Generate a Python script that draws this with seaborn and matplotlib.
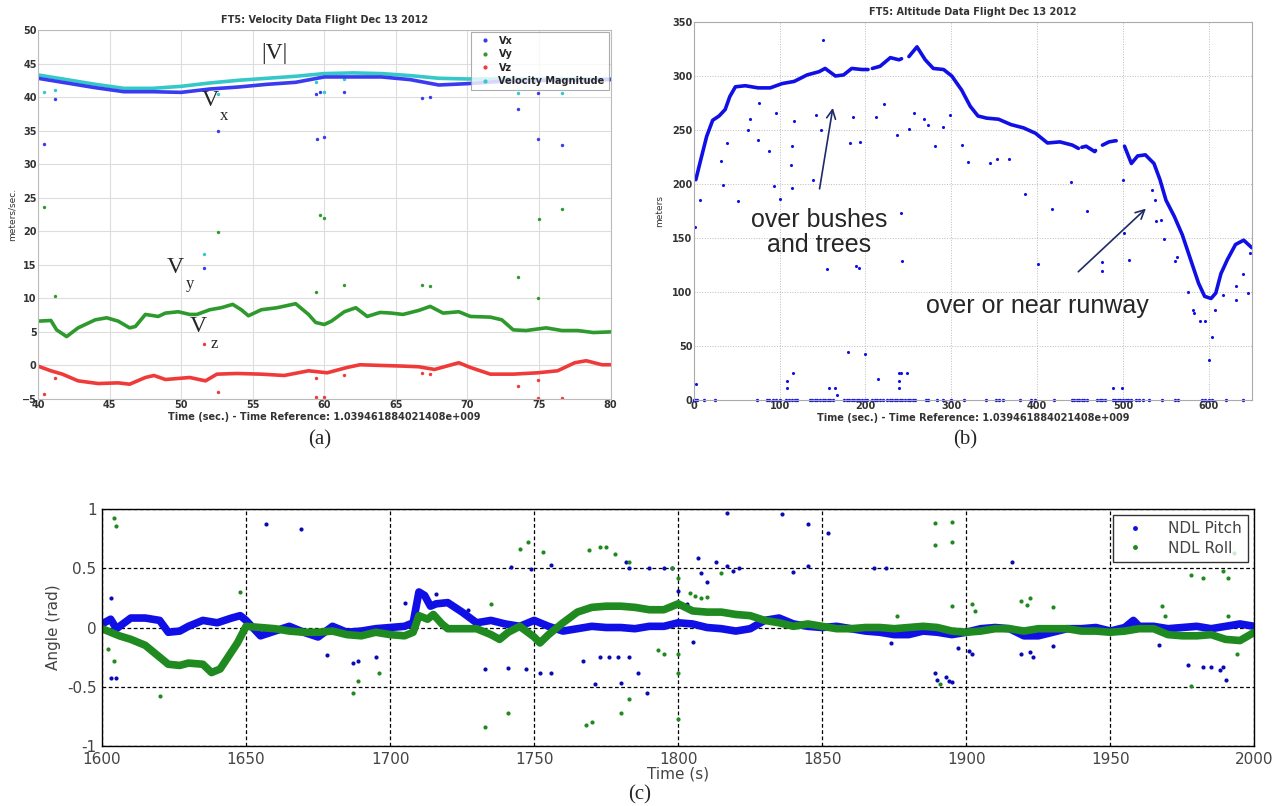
import numpy as np
import matplotlib
matplotlib.use('Agg')
import matplotlib.pyplot as plt
import seaborn as sns
from matplotlib.lines import Line2D

sns.set_style('white')
plt.rcParams['font.family'] = ['DejaVu Sans']

# ---------------- (a) velocity data ----------------
a_t = [40, 42, 44, 46, 48, 50, 52, 54, 56, 58, 60, 62, 64, 66, 68, 70, 72, 74, 76, 78, 80]
a_mag = [43.3, 42.6, 41.9, 41.3, 41.3, 41.6, 42.1, 42.5, 42.8, 43.1, 43.5, 43.6, 43.5, 43.2, 42.8, 42.7, 42.7, 42.7, 42.7, 42.7, 42.7]
a_vx = [42.8, 42.1, 41.4, 40.8, 40.8, 40.7, 41.2, 41.5, 41.9, 42.2, 43.0, 43.0, 43.0, 42.6, 41.8, 42.0, 42.3, 42.4, 42.5, 42.5, 42.6]

vy_t = [40, 40.9, 41.3, 42.0, 42.8, 44.0, 44.8, 45.6, 46.4, 46.8, 47.5, 48.4, 48.9, 49.8, 50.6, 51.1, 52.0,
        52.8, 53.6, 54.2, 54.7, 55.6, 56.7, 58.0, 58.9, 59.4, 60.0, 60.5, 61.4, 62.2, 63.0, 63.9, 64.7,
        65.5, 66.6, 67.4, 68.3, 69.4, 70.2, 71.6, 72.4, 73.2, 74.1, 75.5, 76.6, 77.7, 78.8, 80]
vy = [6.6, 6.7, 5.3, 4.3, 5.6, 6.8, 7.1, 6.6, 5.6, 5.8, 7.6, 7.3, 7.8, 8.0, 7.6, 7.6, 8.3,
      8.6, 9.1, 8.3, 7.4, 8.3, 8.6, 9.2, 7.6, 6.4, 6.1, 6.6, 8.0, 8.6, 7.3, 7.9, 7.8,
      7.6, 8.2, 8.8, 7.8, 8.0, 7.3, 7.2, 6.8, 5.3, 5.2, 5.6, 5.2, 5.2, 4.9, 5.0]

vz_t = [40, 40.9, 41.7, 42.8, 44.2, 45.6, 46.4, 47.5, 48.1, 48.9, 50.6, 51.7, 52.5, 53.9, 55.6, 57.2,
        58.9, 60.2, 61.6, 62.5, 63.9, 65.5, 66.6, 67.7, 69.4, 70.2, 71.6, 73.2, 74.9, 76.3, 77.5, 78.3, 79.4, 80]
vz = [-0.1, -0.8, -1.3, -2.3, -2.7, -2.6, -2.8, -1.8, -1.5, -2.1, -1.8, -2.3, -1.3, -1.2, -1.3, -1.5,
      -0.8, -1.1, -0.3, 0.1, 0.0, -0.1, -0.2, -0.6, 0.4, -0.3, -1.3, -1.3, -1.1, -0.8, 0.4, 0.7, 0.1, 0.1]

# stray samples
vx_out_t = [40.4, 41.2, 52.6, 51.6, 59.5, 60.0, 59.4, 59.7, 61.4, 66.8, 67.4, 73.5, 74.9, 74.9, 76.6]
vx_out = [33.0, 39.7, 35.0, 14.5, 33.7, 34.0, 40.5, 40.8, 40.8, 39.9, 40.0, 38.2, 40.6, 33.8, 32.8]
mag_out_t = [40.4, 41.2, 51.6, 52.6, 59.4, 60.0, 61.4, 73.5, 76.6]
mag_out = [40.7, 41.0, 16.6, 40.4, 42.2, 40.7, 42.7, 40.6, 40.6]
vy_out_t = [40.4, 41.2, 52.6, 59.4, 59.7, 60.0, 61.4, 66.8, 67.4, 73.5, 74.9, 75.0, 76.6]
vy_out = [23.6, 10.3, 19.9, 10.9, 22.4, 22.0, 12.0, 12.0, 11.9, 13.2, 10.0, 21.9, 23.3]
vz_out_t = [40.4, 41.2, 51.6, 52.6, 59.4, 59.4, 60.0, 61.4, 66.8, 67.4, 73.5, 74.9, 74.9, 76.6]
vz_out = [-4.2, -1.9, 3.2, -4.0, -1.8, -4.7, -4.7, -1.4, -1.2, -1.3, -3.1, -2.1, -4.8, -4.8]

# ---------------- (b) altitude data ----------------
b_t = [2.4, 8, 15, 22, 29.5, 36.6, 42, 48.5, 60, 75, 89, 103, 117, 132, 146, 153, 165, 174.5, 184, 196, 203,
       None,
       208, 217, 229, 239, 242,
       None,
       250.6, 260, 269.6, 279, 291, 300.5, 312, 322, 331, 341, 355, 369.5, 384, 398, 412, 426.5, 441, 448,
       None,
       452, 457, 467, 468,
       None,
       476, 483.6, 490.7, 492,
       None,
       501.7, 509.7, 517, 526, 536, 543, 550, 559.7, 569, 578.7, 588, 595, 602.5, 608, 614, 621.5, 631, 640.5, 650]
b_alt = [204, 222, 244, 259, 263, 269, 281, 290, 291, 289, 289, 293, 295, 301, 304, 307, 300, 301, 307, 306, 306,
         None,
         307, 309, 317, 315, 316,
         None,
         318, 327, 315, 307, 306, 300, 287, 272, 263, 261, 260, 255, 252, 247, 238, 239, 236, 233,
         None,
         234, 235, 230, 231,
         None,
         236, 239, 240, 240,
         None,
         235, 219, 226, 227, 219, 204, 185, 170, 153, 130, 108, 96, 94, 99, 117, 130, 144, 148, 141]

b_out_t = [2, 2.4, 6.7, 34, 32, 39, 51, 63, 65, 76, 75, 88, 94, 100, 96, 113, 115, 114, 117, 139, 148, 142,
           150, 155, 158, 165, 167, 109, 109, 116, 180, 200, 182, 193.5, 189, 192, 186, 212.5, 215, 222, 237,
           241, 242, 239, 241.5, 248, 239.6, 239.6, 250.6, 256, 268, 273, 281.5, 290, 299, 312, 319.5, 345,
           353, 367, 386, 417, 401, 439, 458, 476, 476, 488, 499, 500, 501, 507, 533.5, 537, 538, 544.5, 548,
           560, 563, 576, 581, 583, 590, 595, 600, 604, 607, 616, 631, 632, 639.5, 645, 648]
b_out = [160, 15, 185, 199, 221, 238, 184, 250, 260, 275, 241, 231, 198, 186, 266, 218, 196, 235, 258, 204, 250, 264,
         333, 121, 11, 11, 5, 11, 18, 25, 44, 43, 238, 239, 124, 122, 262, 262, 19, 274, 245,
         173, 129, 25, 25, 25, 18, 11, 251, 266, 260, 255, 235, 253, 264, 236, 220, 219,
         223, 223, 191, 177, 126, 202, 175, 119, 128, 11, 11, 204, 155, 130, 194, 185, 166, 167, 149,
         129, 132, 100, 83, 81, 73, 73, 37, 58, 83, 97, 106, 93, 117, 99, 136]
b_zero_t = [0, 2, 4, 12, 25, 74, 85, 88, 92, 96, 100, 108, 111, 114, 118, 120, 135, 138, 141, 144, 147, 150,
            153, 156, 159, 162, 175, 178, 181, 184, 187, 190, 193, 196, 199, 202, 208, 211, 214, 217, 220,
            225, 228, 231, 234, 237, 240, 243, 246, 249, 252, 255, 258, 270, 273, 283, 290, 300, 315, 340,
            352, 356, 360, 380, 393, 398, 420, 440, 443, 446, 449, 452, 455, 458, 470, 473, 476, 479, 488,
            491, 494, 497, 500, 503, 506, 509, 515, 519, 523, 530, 545, 560, 564, 592, 596, 600, 604, 620, 640]

# ---------------- (c) NDL attitude ----------------
p_t = [1600, 1603, 1605, 1610, 1615, 1620, 1623, 1627, 1630, 1635, 1640, 1645, 1648, 1650, 1655, 1660, 1665,
       1670, 1675, 1680, 1685, 1690, 1695, 1700, 1705, 1708, 1710, 1712, 1714, 1716, 1720, 1725, 1730, 1735,
       1740, 1745, 1750, 1755, 1760, 1765, 1770, 1775, 1780, 1785, 1790, 1795, 1800, 1805, 1810, 1815, 1820,
       1825, 1830, 1835, 1840, 1845, 1850, 1855, 1860, 1865, 1870, 1875, 1880, 1885, 1890, 1895, 1900, 1905,
       1910, 1915, 1920, 1925, 1930, 1935, 1940, 1945, 1950, 1955, 1958, 1960, 1965, 1970, 1975, 1980, 1985,
       1990, 1995, 2000]
pitch = [0.03, 0.07, -0.01, 0.08, 0.08, 0.06, -0.04, -0.03, 0.01, 0.06, 0.04, 0.08, 0.1, 0.06, -0.07, -0.03, 0.01,
         -0.04, -0.08, 0.01, -0.04, -0.03, -0.01, 0.0, 0.01, 0.04, 0.3, 0.27, 0.18, 0.2, 0.21, 0.13, 0.04, 0.06,
         0.03, 0.01, 0.06, 0.01, -0.03, -0.01, 0.01, 0.0, 0.0, -0.01, 0.01, 0.01, 0.04, 0.03, 0.0, -0.01, -0.03,
         -0.01, 0.06, 0.08, 0.03, 0.01, 0.0, 0.01, -0.01, -0.03, -0.04, -0.06, -0.06, -0.03, -0.04, -0.06, -0.04, -0.01,
         0.0, -0.01, -0.07, -0.07, -0.04, -0.01, -0.01, 0.0, -0.03, 0.0, 0.06, 0.01, 0.01, -0.01, 0.0, 0.01, -0.01,
         0.01, 0.03, 0.01]

r_t = [1600, 1603, 1606, 1610, 1615, 1620, 1623, 1627, 1630, 1635, 1638, 1641, 1644, 1647, 1650, 1655, 1660,
       1665, 1670, 1675, 1680, 1685, 1690, 1695, 1700, 1705, 1708, 1710, 1713, 1715, 1718, 1720, 1725, 1730,
       1735, 1738, 1741, 1745, 1750, 1752, 1755, 1760, 1765, 1770, 1775, 1780, 1785, 1790, 1795, 1800, 1805,
       1810, 1815, 1820, 1825, 1830, 1835, 1840, 1845, 1850, 1855, 1860, 1865, 1870, 1875, 1880, 1885, 1890,
       1895, 1900, 1905, 1910, 1915, 1920, 1925, 1930, 1935, 1940, 1945, 1950, 1955, 1960, 1965, 1970, 1975,
       1980, 1985, 1990, 1995, 2000]
roll = [-0.01, -0.04, -0.07, -0.1, -0.15, -0.25, -0.31, -0.32, -0.3, -0.31, -0.38, -0.35, -0.24, -0.13, 0.01, 0.0,
        -0.01, -0.03, -0.04, -0.04, -0.03, -0.06, -0.07, -0.04, -0.06, -0.07, -0.04, 0.1, 0.07, 0.11, 0.03, -0.01,
        -0.01, -0.01, -0.06, -0.1, -0.04, 0.01, -0.08, -0.13, -0.06, 0.04, 0.13, 0.17, 0.18, 0.18, 0.17, 0.15,
        0.15, 0.2, 0.14, 0.13, 0.13, 0.11, 0.1, 0.06, 0.04, 0.01, 0.03, 0.01, -0.01, -0.01, 0.0, 0.0, -0.01, 0.0,
        0.01, 0.0, -0.03, -0.04, -0.03, -0.01, -0.01, -0.03, -0.01, -0.01, -0.01, -0.03, -0.03, -0.04, -0.03,
        -0.01, -0.01, -0.06, -0.07, -0.07, -0.06, -0.1, -0.11, -0.04]

roll_out_t = [1604, 1605, 1602, 1604, 1620, 1648, 1689, 1687, 1696, 1735, 1733, 1741, 1745, 1748, 1753, 1769,
              1773, 1775, 1778, 1770, 1768, 1780, 1783, 1783, 1798, 1800, 1800, 1800, 1800, 1806, 1804, 1808,
              1810, 1793, 1795, 1815, 1876, 1889, 1895, 1889, 1895, 1891, 1895, 1902, 1903, 1919, 1922, 1921,
              1930, 1968, 1969, 1978, 1982, 1978, 1989, 1991, 1991, 1993, 1994]
roll_out = [0.92, 0.86, -0.18, -0.28, -0.58, 0.3, -0.45, -0.55, -0.38, 0.2, -0.84, -0.72, 0.66, 0.72, 0.64, 0.65,
            0.68, 0.68, 0.62, -0.8, -0.82, -0.72, 0.55, -0.6, 0.5, 0.42, -0.22, -0.77, -0.38, 0.27, 0.29, 0.25,
            0.26, -0.19, -0.22, 0.46, 0.1, 0.88, 0.89, 0.7, 0.72, -0.48, 0.18, 0.2, 0.14, 0.22, 0.25, 0.19,
            0.17, 0.18, 0.1, 0.44, 0.42, -0.49, 0.48, 0.42, 0.1, 0.63, -0.22]
pitch_out_t = [1603, 1603, 1605, 1657, 1669, 1687, 1689, 1695, 1678, 1705, 1716, 1727, 1733, 1741, 1747, 1742,
               1749, 1752, 1756, 1756, 1767, 1771, 1773, 1776, 1779, 1780, 1782, 1783, 1783, 1786, 1789, 1790,
               1795, 1798, 1800, 1803, 1805, 1807, 1808, 1810, 1813, 1817, 1817, 1819, 1821, 1836, 1840, 1845,
               1845, 1852, 1868, 1872, 1874, 1889, 1890, 1893, 1894, 1895, 1897, 1901, 1902, 1916, 1919, 1922,
               1923, 1930, 1967, 1977, 1982, 1985, 1988, 1989, 1990]
pitch_out = [0.25, -0.43, -0.43, 0.87, 0.83, -0.3, -0.28, -0.25, -0.23, 0.21, 0.28, 0.15, -0.35, -0.34, -0.35, 0.51,
             0.49, -0.38, -0.38, 0.53, -0.28, -0.48, -0.25, -0.25, -0.25, -0.47, 0.55, -0.25, 0.5, -0.38, -0.55, 0.5,
             0.5, 0.5, 0.31, 0.2, -0.12, 0.59, 0.46, 0.38, 0.55, 0.97, 0.52, 0.48, 0.5, 0.96, 0.47, 0.52,
             0.87, 0.8, 0.5, 0.5, -0.13, -0.38, -0.44, -0.42, -0.45, -0.46, -0.17, -0.2, -0.22, 0.55, -0.22, -0.21,
             -0.25, -0.16, -0.15, -0.32, -0.33, -0.33, -0.36, -0.33, -0.44]

c_blue = '#1010e6'
c_green = '#1f8a1f'
c_vx = '#3a3af0'
c_vy = '#2e9a2e'
c_vz = '#f03a3a'
c_mag = '#35c8c8'

fig = plt.figure(figsize=(12.8, 8.06), dpi=100)

# ---- panel (a)
ax1 = fig.add_axes([0.0297, 0.505, 0.4473, 0.4578])
sns.lineplot(x=a_t, y=a_mag, ax=ax1, color=c_mag, lw=2.6)
sns.lineplot(x=a_t, y=a_vx, ax=ax1, color=c_vx, lw=2.6)
sns.lineplot(x=vy_t, y=vy, ax=ax1, color=c_vy, lw=2.6)
sns.lineplot(x=vz_t, y=vz, ax=ax1, color=c_vz, lw=2.6)
for xs, ys, col in [(vx_out_t, vx_out, c_vx), (mag_out_t, mag_out, c_mag),
                    (vy_out_t, vy_out, c_vy), (vz_out_t, vz_out, c_vz)]:
    sns.scatterplot(x=xs, y=ys, ax=ax1, color=col, s=6, linewidth=0)
ax1.set_xlim(40, 80)
ax1.set_ylim(-5, 50)
ax1.set_xticks(range(40, 81, 5))
ax1.set_yticks(range(-5, 51, 5))
ax1.grid(True, color='#dddddd', lw=0.8)
for sp in ax1.spines.values():
    sp.set_color('#bbbbbb')
ax1.tick_params(labelsize=7, pad=1, length=0)
for lab in ax1.get_xticklabels() + ax1.get_yticklabels():
    lab.set_fontweight('bold')
    lab.set_color('#333333')
ax1.set_title('FT5: Velocity Data Flight Dec 13 2012', fontsize=7, fontweight='bold', color='#333333', pad=5)
ax1.set_xlabel('Time (sec.) - Time Reference: 1.039461884021408e+009', fontsize=7, fontweight='bold',
               color='#333333', labelpad=1)
ax1.set_ylabel('meters/sec.', fontsize=6.5, color='#333333', labelpad=4)
hand_a = [Line2D([], [], ls='none', marker='.', ms=4, color=c) for c in (c_vx, c_vy, c_vz, c_mag)]
leg = ax1.legend(hand_a, ['Vx', 'Vy', 'Vz', 'Velocity Magnitude'], loc='upper right', fontsize=7,
                 prop={'weight': 'bold', 'size': 7}, frameon=True, fancybox=False, borderaxespad=0.2,
                 handletextpad=0.4, labelspacing=0.35)
leg.get_frame().set_edgecolor('#999999')
leg.get_frame().set_linewidth(0.8)
serif = ['Liberation Serif', 'DejaVu Serif']
ax1.text(56.5, 46.5, '|V|', fontsize=17, family=serif, ha='center', va='center')
ax1.text(52.0, 39.5, 'V', fontsize=17, family=serif, ha='center', va='center')
ax1.text(53.0, 37.2, 'x', fontsize=12, family=serif, ha='center', va='center')
ax1.text(49.6, 14.6, 'V', fontsize=17, family=serif, ha='center', va='center')
ax1.text(50.6, 12.1, 'y', fontsize=12, family=serif, ha='center', va='center')
ax1.text(51.2, 5.8, 'V', fontsize=17, family=serif, ha='center', va='center')
ax1.text(52.3, 3.2, 'z', fontsize=12, family=serif, ha='center', va='center')

# ---- panel (b)
ax2 = fig.add_axes([0.542, 0.5037, 0.436, 0.469])
b_t_arr = np.array([np.nan if v is None else v for v in b_t], dtype=float)
b_alt_arr = np.array([np.nan if v is None else v for v in b_alt], dtype=float)
ax2.plot(b_t_arr, b_alt_arr, color=c_blue, lw=2.6)
sns.scatterplot(x=b_out_t, y=b_out, ax=ax2, color=c_blue, s=5, linewidth=0)
sns.scatterplot(x=b_zero_t, y=[0] * len(b_zero_t), ax=ax2, color=c_blue, s=6, linewidth=0, clip_on=False)
ax2.set_xlim(0, 650)
ax2.set_ylim(0, 350)
ax2.set_xticks(range(0, 601, 100))
ax2.set_yticks(range(0, 351, 50))
ax2.grid(True, color='#bbbbbb', lw=0.7, ls=':')
for sp in ax2.spines.values():
    sp.set_color('#aaaaaa')
ax2.tick_params(labelsize=7, pad=1, length=0)
for lab in ax2.get_xticklabels() + ax2.get_yticklabels():
    lab.set_fontweight('bold')
    lab.set_color('#333333')
ax2.set_title('FT5: Altitude Data Flight Dec 13 2012', fontsize=7, fontweight='bold', color='#333333', pad=5)
ax2.set_xlabel('Time (sec.) - Time Reference: 1.039461884021408e+009', fontsize=7, fontweight='bold',
               color='#333333', labelpad=1)
ax2.set_ylabel('meters', fontsize=6.5, color='#333333', labelpad=6)
sans = ['Liberation Sans', 'DejaVu Sans']
ax2.text(146, 155, 'over bushes\nand trees', fontsize=18, family=sans, ha='center', va='center',
         linespacing=1.05)
ax2.annotate('', xy=(162.5, 273), xytext=(146, 193),
             arrowprops=dict(arrowstyle='->', color='#1f2a6b', lw=1.2, mutation_scale=16))
ax2.text(400, 87, 'over or near runway', fontsize=18, family=sans, ha='center', va='center')
ax2.annotate('', xy=(529, 179), xytext=(445.5, 117),
             arrowprops=dict(arrowstyle='->', color='#1f2a6b', lw=1.2, mutation_scale=16))

# ---- panel (c)
ax3 = fig.add_axes([0.0797, 0.0744, 0.9003, 0.2941])
sns.lineplot(x=p_t, y=pitch, ax=ax3, color=c_blue, lw=5.5)
sns.lineplot(x=r_t, y=roll, ax=ax3, color=c_green, lw=5.5)
sns.scatterplot(x=pitch_out_t, y=pitch_out, ax=ax3, color='#0a0ab4', s=9, linewidth=0)
sns.scatterplot(x=roll_out_t, y=roll_out, ax=ax3, color=c_green, s=9, linewidth=0)
ax3.set_xlim(1600, 2000)
ax3.set_ylim(-1, 1)
ax3.set_xticks(range(1600, 2001, 50))
ax3.set_yticks([-1, -0.5, 0, 0.5, 1])
ax3.set_yticklabels(['-1', '-0.5', '0', '0.5', '1'])
ax3.grid(True, color='black', lw=0.9, ls=(0, (3, 2)))
for sp in ax3.spines.values():
    sp.set_color('black')
    sp.set_linewidth(1.0)
ax3.tick_params(labelsize=11, labelcolor='#444444', length=0, pad=4)
ax3.set_xlabel('Time (s)', fontsize=11, color='#444444', labelpad=0)
ax3.set_ylabel('Angle (rad)', fontsize=11, color='#444444', labelpad=4)
hand_c = [Line2D([], [], ls='none', marker='.', ms=5, color=c) for c in (c_blue, c_green)]
leg3 = ax3.legend(hand_c, ['NDL Pitch', 'NDL Roll'], loc='upper right', fontsize=11, frameon=True,
                  fancybox=False, borderaxespad=0.4, handletextpad=1.2, labelspacing=0.3,
                  labelcolor='#444444')
leg3.get_frame().set_edgecolor('black')
leg3.get_frame().set_linewidth(1.0)

# captions
fig.text(320 / 1280, 1 - 440 / 806, '(a)', fontsize=15, family=serif, ha='center', va='center')
fig.text(965 / 1280, 1 - 440 / 806, '(b)', fontsize=15, family=serif, ha='center', va='center')
fig.text(640 / 1280, 1 - 795 / 806, '(c)', fontsize=15, family=serif, ha='center', va='center')

fig.savefig('out.png', dpi=100)
